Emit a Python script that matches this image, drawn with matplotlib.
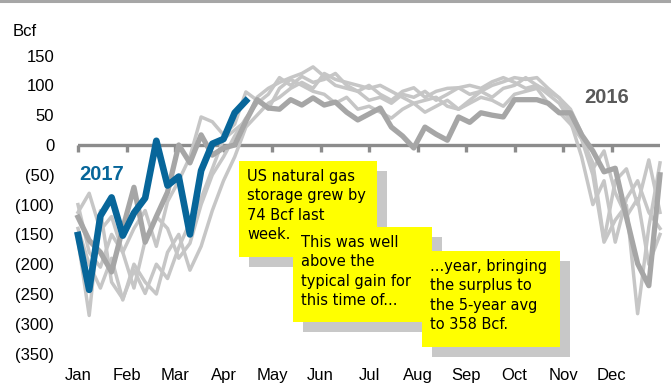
import matplotlib
matplotlib.use("Agg")
import matplotlib.pyplot as plt
from matplotlib.patches import Rectangle
from matplotlib.lines import Line2D

# weekly net storage change, Bcf (week 0 = first week of Jan)
y2017 = [-151, -243, -119, -88, -152, -114, -89, 7, -68, -53, -150, -43, 2, 10, 54, 74]

y2016 = [-121, -160, -180, -213, -140, -71, -163, -120, -79, 0, -30, 17, -17, -5, 0, 40,
         76, 62, 60, 76, 67, 79, 67, 72, 55, 42, 52, 62, 30, 15, -5,
         30, 18, 8, 47, 38, 54, 50, 47, 76, 76, 76, 70, 54, 54, 17,
         -10, -45, -39, -121, -199, -236, -50]

prior_years = [
    [-113, -81, -143, -120, -180, -140, -110, -170, -95, -60, -20, 47, 39, 17, 35, 89,
     75, 60, 95, 110, 100, 90, 85, 70, 80, 60, 65, 55, 45, 60, 70,
     55, 65, 75, 60, 70, 80, 75, 65, 85, 90, 95, 70, 55, 35, 10,
     -30, -160, -60, -40, -100, -25, -113],
    [-160, -286, -110, -230, -258, -210, -249, -200, -224, -172, -130, -90, -40, 10, 25, 40,
     80, 95, 105, 113, 120, 131, 115, 100, 95, 90, 100, 85, 75, 90, 96,
     80, 90, 95, 96, 85, 90, 100, 106, 113, 110, 113, 95, 79, 50, 10,
     -50, -163, -126, -101, -283, -138, -30],
    [-100, -180, -205, -150, -180, -240, -160, -120, -140, -190, -165, -100, -50, -20, 15, 45,
     70, 85, 113, 100, 115, 105, 110, 120, 100, 90, 75, 80, 70, 85, 80,
     90, 75, 85, 96, 100, 95, 106, 113, 105, 95, 100, 85, 70, 40, -20,
     -100, -60, -163, -90, -60, -113, -140],
    [-140, -200, -240, -190, -260, -200, -230, -250, -180, -150, -210, -170, -110, -60, -20, 30,
     50, 70, 80, 95, 105, 95, 120, 110, 105, 100, 95, 100, 90, 80, 70,
     75, 80, 65, 60, 75, 90, 80, 95, 100, 113, 100, 90, 79, 60, 20,
     -40, -10, -80, -120, -90, -200, -150],
]

months = ["Jan", "Feb", "Mar", "Apr", "May", "Jun", "Jul", "Aug", "Sep", "Oct", "Nov", "Dec"]
yticks = list(range(-350, 151, 50))

W, H = 671, 390
fig = plt.figure(figsize=(W / 100, H / 100), dpi=100)


def fx(px):
    return px / W


def fy(py):
    return 1 - py / H


ax = fig.add_axes([fx(78), fy(359.6), fx(582), 310 / H])
ax.set_xlim(0, 52)
ax.set_ylim(-360, 160)

weeks = list(range(53))
for vals in prior_years:
    ax.plot(weeks[:len(vals)], vals, color="#C6C6C6", lw=2.5, clip_on=False, zorder=2)
ax.plot(weeks[:len(y2016)], y2016, color="#A6A6A6", lw=3.8, clip_on=False, zorder=3)
ax.plot(weeks[:len(y2017)], y2017, color="#07669A", lw=4.8, clip_on=False, zorder=4)

# zero line with month tick marks
month_pos = [i * 52 / 12 for i in range(12)]
ax.axhline(0, color="#8C8C8C", lw=2.4, zorder=1.5)
ax.plot(month_pos, [0] * 12, ls="none", marker=3, ms=5, mew=2.4, color="#8C8C8C",
        zorder=1.5, clip_on=False)

for s in ax.spines.values():
    s.set_visible(False)
ax.set_xticks(month_pos, months)
ax.set_yticks(yticks, [f"({-v})" if v < 0 else str(v) for v in yticks])
ax.tick_params(length=0, labelsize=12)
ax.tick_params(axis="y", pad=17)
ax.tick_params(axis="x", pad=6)
for lab in ax.get_xticklabels() + ax.get_yticklabels():
    lab.set_fontfamily("Liberation Sans")

fig.text(fx(13), fy(32), "Bcf", fontsize=12, family="Liberation Sans", va="center")
ax.text(0.1, -50, "2017", color="#07669A", fontsize=14.5, fontweight="bold",
        family="Liberation Sans", va="center")
ax.text(45.2, 80, "2016", color="#595959", fontsize=14.5, fontweight="bold",
        family="Liberation Sans", va="center")

# top border
fig.add_artist(Line2D([0, 1], [fy(1.2), fy(1.2)], color="#A6A6A6", lw=2.2))

# sticky-note callouts
notes = [
    (239, 161, 138, 96, "US natural gas\nstorage grew by\n74 Bcf last\nweek."),
    (293, 227, 139, 95, "This was well\nabove the\ntypical gain for\nthis time of..."),
    (422, 251, 138, 96, "...year, bringing\nthe surplus to\nthe 5-year avg\nto 358 Bcf."),
]
for x0, y0, w, h, txt in notes:
    fig.add_artist(Rectangle((fx(x0 + 10), fy(y0 + 10 + h)), fx(w), h / H,
                             facecolor="#C8C8C8", edgecolor="none", zorder=5))
    fig.add_artist(Rectangle((fx(x0), fy(y0 + h)), fx(w), h / H,
                             facecolor="#FFFF00", edgecolor="none", zorder=6))
    fig.text(fx(x0 + 8), fy(y0 + 8), txt, fontsize=10.5, family="DejaVu Sans",
             va="top", ha="left", linespacing=1.36, zorder=7)

fig.savefig("out.png", dpi=100)
